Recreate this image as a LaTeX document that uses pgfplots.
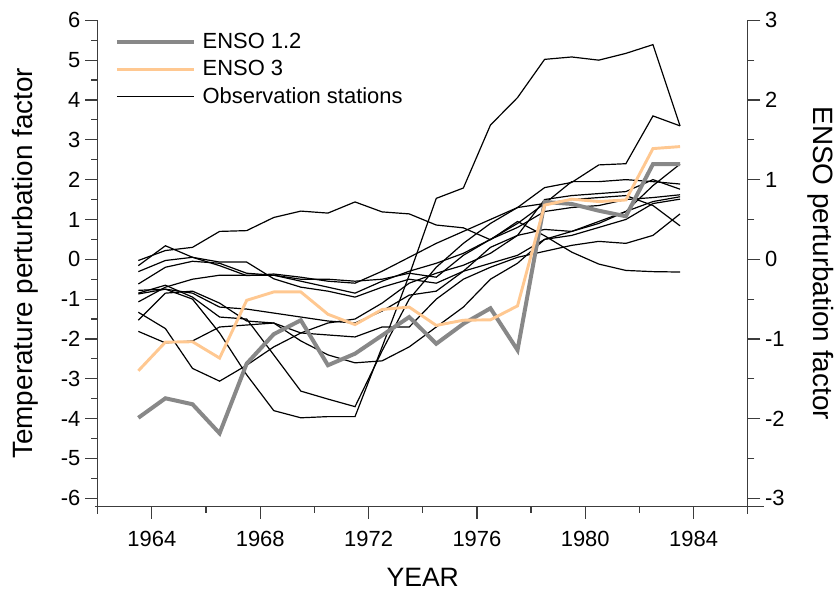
\documentclass[border=0pt]{standalone}
\usepackage{pgfplots}
\usepackage{pgfplotstable}
\usepackage{fontspec}
\setmainfont{Liberation Sans}
\pgfplotsset{compat=1.18}
\definecolor{ensogray}{RGB}{136,136,136}
\definecolor{ensoorange}{RGB}{255,200,145}
\definecolor{axgray}{RGB}{60,60,60}

\pgfplotstableread{
year s1 s2 s3 s4 s5 s6 s7 s8 s9 s10 s11
1963.5 -0.03 -0.87 -0.16 -0.31 -0.62 -0.78 -1.07 -1.33 -1.53 -1.81 -0.85
1964.5 0.22 -0.75 0.34 -0.03 -0.20 -0.75 -0.70 -1.74 -0.85 -2.10 -0.65
1965.5 0.30 -1.00 0.05 0.05 -0.05 -0.85 -0.50 -2.74 -0.80 -2.05 -0.95
1966.5 0.70 -1.85 -0.16 -0.07 -0.10 -1.20 -0.40 -3.06 -1.10 -1.70 -1.45
1967.5 0.72 -2.90 -0.41 -0.07 -0.35 -1.25 -0.40 -2.66 -1.55 -1.65 -1.50
1968.5 1.05 -3.80 -0.37 -0.49 -0.40 -1.35 -0.40 -2.20 -1.60 -1.60 -2.40
1969.5 1.21 -3.98 -0.45 -0.70 -0.50 -1.45 -0.55 -1.85 -2.05 -1.85 -3.31
1970.5 1.16 -3.95 -0.55 -0.80 -0.50 -1.55 -0.70 -1.60 -2.40 -1.90 -3.51
1971.5 1.44 -3.95 -0.60 -0.95 -0.55 -1.60 -0.85 -1.50 -2.60 -1.95 -3.70
1972.5 1.19 -2.20 -0.30 -0.70 -0.50 -1.30 -0.55 -1.10 -2.55 -1.70 -2.30
1973.5 1.14 -0.40 0.05 -0.50 -0.35 -0.90 -0.30 -0.60 -2.20 -1.70 -1.00
1974.5 0.86 1.53 0.40 -0.60 -0.45 -0.80 -0.10 -0.35 -1.70 -1.00 -0.20
1975.5 0.79 1.79 0.70 -0.30 0.10 -0.30 0.15 -0.15 -1.20 -0.50 0.40
1976.5 0.49 3.37 1.00 -0.10 0.50 0.30 0.50 0.15 -0.50 -0.20 0.90
1977.5 0.95 4.06 1.30 0.10 0.90 0.60 0.80 0.60 -0.10 0.05 1.30
1978.5 0.59 5.02 1.80 0.50 1.40 1.50 1.20 0.75 0.50 0.20 1.40
1979.5 0.18 5.08 1.93 0.70 1.95 1.60 1.30 0.70 0.60 0.35 1.50
1980.5 -0.12 5.00 2.37 0.90 1.95 1.65 1.35 0.95 0.80 0.45 1.55
1981.5 -0.28 5.17 2.40 1.20 2.00 1.70 1.50 1.20 1.00 0.40 1.60
1982.5 -0.31 5.39 3.60 1.85 1.95 2.00 1.55 1.45 1.40 0.60 1.35
1983.5 -0.32 3.35 3.35 2.39 1.89 1.76 1.62 1.57 1.51 1.14 0.84
}\stations

\pgfplotstableread{
year enso12 enso3
1963.5 -1.990 -1.400
1964.5 -1.745 -1.040
1965.5 -1.820 -1.035
1966.5 -2.185 -1.240
1967.5 -1.310 -0.515
1968.5 -0.940 -0.410
1969.5 -0.765 -0.410
1970.5 -1.330 -0.690
1971.5 -1.185 -0.820
1972.5 -0.955 -0.630
1973.5 -0.725 -0.600
1974.5 -1.060 -0.830
1975.5 -0.810 -0.765
1976.5 -0.615 -0.760
1977.5 -1.140 -0.585
1978.5 0.720 0.680
1979.5 0.695 0.755
1980.5 0.610 0.725
1981.5 0.540 0.745
1982.5 1.195 1.390
1983.5 1.195 1.415
}\enso

\pgfplotsset{
  common/.style={
    scale only axis, width=489pt, height=365.5pt,
    xmin=1962, xmax=1986,
    tick align=outside,
    major tick length=9.5pt, minor tick length=5pt,
    every tick/.style={axgray, line width=0.9pt},
    axis line style={axgray, line width=0.9pt},
    tick label style={font=\fontsize{16.5}{18}\selectfont},
    /pgf/number format/assume math mode=true,
    /pgf/number format/1000 sep={},
    clip=false,
  }
}

\begin{document}
\begin{tikzpicture}
\begin{axis}[common, name=main,
  ymin=-6.2, ymax=6,
  axis x line*=bottom, axis y line*=left,
  xtick={1964,1968,...,1984},
  minor xtick={1966,1970,1974,1978,1982,1986},
  ytick={-6,...,6},
  minor ytick={-5.5,-4.5,...,5.5},
  xticklabel style={yshift=-6pt},
  xlabel={YEAR},
  ylabel={Temperature perturbation factor},
  every axis x label/.style={at={(axis description cs:0.5,-0.147)}, anchor=center, font=\fontsize{20}{24}\selectfont},
  every axis y label/.style={at={(axis description cs:-0.112,0.5)}, rotate=90, anchor=center, font=\fontsize{21}{24}\selectfont},
]
\foreach \c in {s1,s2,s3,s4,s5,s6,s7,s8,s9,s10,s11}{
  \addplot[black, line width=0.9pt, no markers] table[x=year, y=\c] {\stations};
}
\draw[axgray, line width=0.9pt] (axis cs:1962,-6.2) -- (axis cs:1962,-6.4);
\draw[axgray, line width=0.9pt] (axis cs:1961.9,-6.2) -- (axis cs:1962,-6.2);
\draw[axgray, line width=0.9pt] (axis cs:1986,-6.2) -- (axis cs:1986.6,-6.2);
\draw[axgray, line width=0.9pt] (axis cs:1986,-6.2) -- (axis cs:1986,-6.4);
\end{axis}
\begin{axis}[common,
  ymin=-3.1, ymax=3,
  axis x line=none, axis y line*=right,
  ytick={-3,...,3},
  minor ytick={-2.5,-1.5,...,2.5},
  ylabel={ENSO perturbation factor},
  every axis y label/.style={at={(axis description cs:1.112,0.5)}, rotate=-90, anchor=center, font=\fontsize{21}{24}\selectfont},
  legend style={draw=none, fill=none, at={(axis description cs:0.022,0.985)}, anchor=north west,
    font=\fontsize{16.5}{18}\selectfont, row sep=3.5pt, inner sep=2pt},
  legend cell align=left,
  legend image code/.code={\draw[#1] (0pt,0pt) -- (58pt,0pt);},
  legend style={nodes={inner xsep=5pt}},
]
\addplot[ensogray, line width=3pt, no markers] table[x=year, y=enso12] {\enso};
\addlegendentry{ENSO 1.2}
\addplot[ensoorange, line width=2.2pt, no markers] table[x=year, y=enso3] {\enso};
\addlegendentry{ENSO 3}
\addlegendimage{black, line width=0.9pt}
\addlegendentry{Observation stations}
\end{axis}
\path ([xshift=-73.5pt,yshift=-62.7pt]main.south west) rectangle ([xshift=66pt,yshift=15.3pt]main.north east);
\end{tikzpicture}
\end{document}
